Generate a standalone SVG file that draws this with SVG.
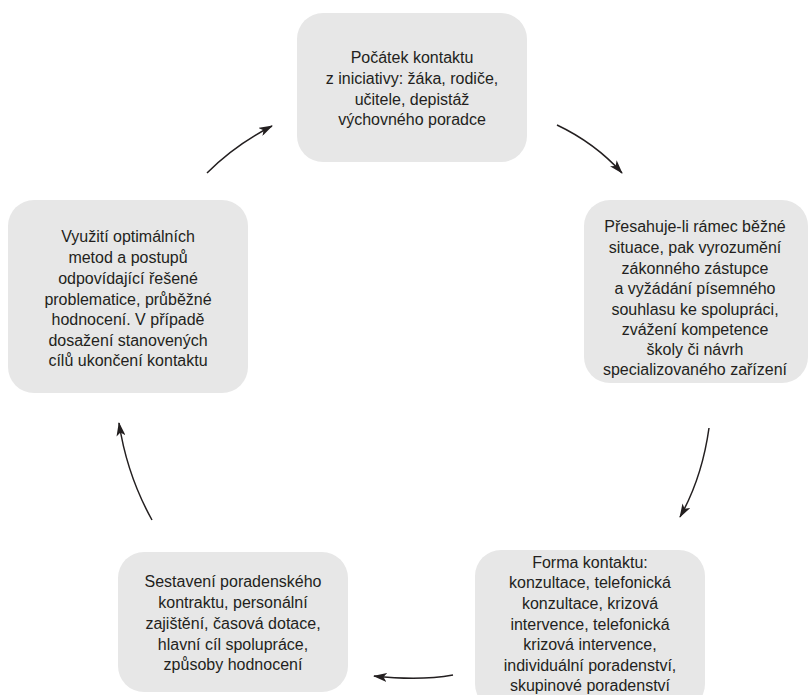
<svg xmlns="http://www.w3.org/2000/svg" width="809" height="695" viewBox="0 0 809 695">
<defs>
<style>
.box{fill:#e7e7e7;}
.t{font-family:"Liberation Sans",Arial,sans-serif;font-size:16px;fill:#231f20;text-anchor:middle;}
.c{fill:none;stroke:#231f20;stroke-width:1.5;marker-end:url(#ah);}
</style>
<marker id="ah" viewBox="0 0 14 9" refX="13" refY="4.5" markerWidth="14" markerHeight="9" markerUnits="userSpaceOnUse" orient="auto">
<path d="M0,0 L14,4.5 L0,9 L3.5,4.5 Z" fill="#231f20"/>
</marker>
</defs>
<rect width="809" height="695" fill="#ffffff"/>
<g id="n1">
<rect class="box" x="297" y="13" width="230" height="149" rx="26"/>
<text class="t"><tspan x="412" y="63">Počátek kontaktu</tspan><tspan x="412" y="84">z iniciativy: žáka, rodiče,</tspan><tspan x="412" y="105">učitele, depistáž</tspan><tspan x="412" y="125">výchovného poradce</tspan></text>
</g>
<g id="n2">
<rect class="box" x="584" y="200" width="224" height="183" rx="26"/>
<text class="t"><tspan x="695" y="232">Přesahuje-li rámec běžné</tspan><tspan x="695" y="253">situace, pak vyrozumění</tspan><tspan x="695" y="274">zákonného zástupce</tspan><tspan x="695" y="294">a vyžádání písemného</tspan><tspan x="695" y="315">souhlasu ke spolupráci,</tspan><tspan x="695" y="335">zvážení kompetence</tspan><tspan x="695" y="355">školy či návrh</tspan><tspan x="695" y="375">specializovaného zařízení</tspan></text>
</g>
<g id="n3">
<rect class="box" x="475" y="550" width="230" height="160" rx="26"/>
<text class="t"><tspan x="590" y="568">Forma kontaktu:</tspan><tspan x="590" y="588">konzultace, telefonická</tspan><tspan x="590" y="609">konzultace, krizová</tspan><tspan x="590" y="630">intervence, telefonická</tspan><tspan x="590" y="650">krizová intervence,</tspan><tspan x="590" y="671">individuální poradenství,</tspan><tspan x="590" y="691">skupinové poradenství</tspan></text>
</g>
<g id="n4">
<rect class="box" x="118" y="552" width="230" height="140" rx="26"/>
<text class="t"><tspan x="233" y="587">Sestavení poradenského</tspan><tspan x="233" y="608">kontraktu, personální</tspan><tspan x="233" y="629">zajištění, časová dotace,</tspan><tspan x="233" y="650">hlavní cíl spolupráce,</tspan><tspan x="233" y="670">způsoby hodnocení</tspan></text>
</g>
<g id="n5">
<rect class="box" x="8" y="200" width="240" height="193" rx="26"/>
<text class="t"><tspan x="128" y="242">Využití optimálních</tspan><tspan x="128" y="263">metod a postupů</tspan><tspan x="128" y="284">odpovídající řešené</tspan><tspan x="128" y="305">problematice, průběžné</tspan><tspan x="128" y="325">hodnocení. V případě</tspan><tspan x="128" y="346">dosažení stanovených</tspan><tspan x="128" y="366">cílů ukončení kontaktu</tspan></text>
</g>
<g id="connectors">
<path class="c" d="M207,173 Q235,145 272,126"/>
<path class="c" d="M557,125 Q595,143 622,173"/>
<path class="c" d="M709,428 Q702,478 680,517"/>
<path class="c" d="M453,675 Q420,681 374,676"/>
<path class="c" d="M152,520 Q127,475 119,423"/>
</g>
</svg>
